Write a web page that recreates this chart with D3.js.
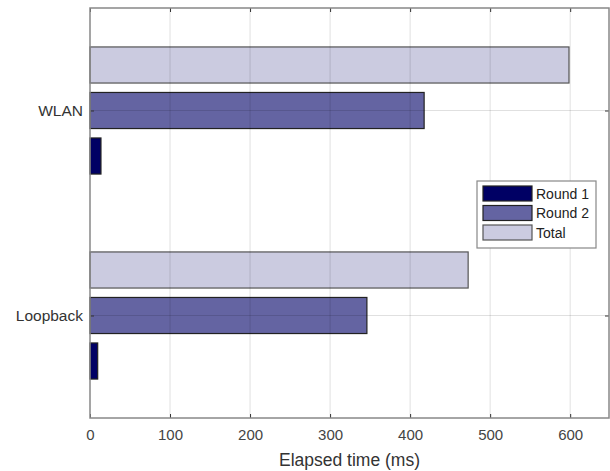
<html>
<head>
<meta charset="utf-8">
<script src="https://d3js.org/d3.v7.min.js"></script>
<style>
  body { margin: 0; background: #fff; }
  text { font-family: "Liberation Sans", Arial, sans-serif; }
</style>
</head>
<body>
<div id="my_dataviz"></div>
<script>
// categories (bottom to top) and series
const categories = ["Loopback", "WLAN"];
const seriesNames = ["Round 1", "Round 2", "Total"];
const round1 = [9.6, 13.7];
const round2 = [346, 417.5];
const total = [472.5, 598.5];
const xTicks = [0, 100, 200, 300, 400, 500, 600];

const colors = ["#000064", "#6464a2", "#cbcbe0"];

const W = 610, H = 471;
const margin = {top: 8, right: 1, bottom: 53, left: 90};

const svg = d3.select("#my_dataviz")
  .append("svg")
    .attr("width", W)
    .attr("height", H);

const x = d3.scaleLinear()
  .domain([0, 648.5])
  .range([margin.left, W - margin.right]);

// numeric y like matlab barh: category i at y=i+1, limits [0.5, 2.5]
const y = d3.scaleLinear()
  .domain([0.5, categories.length + 0.5])
  .range([H - margin.bottom, margin.top]);

const groupOffset = 0.222, barH = 0.176;
const seriesVals = [round1, round2, total];

const data = [];
seriesVals.forEach((vals, s) => {
  vals.forEach((v, i) => {
    data.push({s: s, cat: i + 1, value: v});
  });
});

// bars
svg.append("g")
  .selectAll("rect")
  .data(data)
  .join("rect")
    .attr("x", x(0))
    .attr("y", d => y(d.cat + (d.s - 1) * groupOffset + barH / 2))
    .attr("width", d => x(d.value) - x(0))
    .attr("height", d => y(0) - y(barH))
    .style("fill", d => colors[d.s])
    .style("stroke", d => d.s == 2 ? "#555" : "#222")
    .style("stroke-width", 1.2);

// grid on top, semi transparent
const grid = svg.append("g");
grid.selectAll(".gx")
  .data(xTicks.filter(t => t > 0))
  .join("line")
    .attr("x1", d => x(d)).attr("x2", d => x(d))
    .attr("y1", margin.top).attr("y2", H - margin.bottom)
    .style("stroke", "rgba(0,0,0,0.12)");
grid.selectAll(".gy")
  .data(categories.map((c, i) => i + 1))
  .join("line")
    .attr("x1", margin.left).attr("x2", W - margin.right)
    .attr("y1", d => y(d)).attr("y2", d => y(d))
    .style("stroke", "rgba(0,0,0,0.12)");

// axes
svg.append("g")
  .attr("transform", `translate(0, ${H - margin.bottom})`)
  .style("font-size", "15px")
  .call(d3.axisBottom(x).tickValues(xTicks).tickSizeInner(-4).tickSizeOuter(0).tickPadding(11))
  .call(g => g.select(".domain").remove())
  .call(g => g.selectAll("line").style("stroke", "#333"))
  .call(g => g.selectAll("text").style("fill", "#444"));

svg.append("g")
  .attr("transform", `translate(0, ${margin.top})`)
  .call(d3.axisTop(x).tickValues(xTicks).tickSizeInner(-4).tickSizeOuter(0).tickFormat(""))
  .call(g => g.select(".domain").remove())
  .call(g => g.selectAll("line").style("stroke", "#333"));

svg.append("g")
  .attr("transform", `translate(${margin.left}, 0)`)
  .style("font-size", "15.5px")
  .call(d3.axisLeft(y).tickValues([1, 2]).tickFormat(d => categories[d - 1]).tickSizeInner(-4).tickSizeOuter(0).tickPadding(7))
  .call(g => g.select(".domain").remove())
  .call(g => g.selectAll("line").style("stroke", "#333"))
  .call(g => g.selectAll("text").style("fill", "#333"));

svg.append("g")
  .attr("transform", `translate(${W - margin.right}, 0)`)
  .call(d3.axisRight(y).tickValues([1, 2]).tickSizeInner(-4).tickSizeOuter(0).tickFormat(""))
  .call(g => g.select(".domain").remove())
  .call(g => g.selectAll("line").style("stroke", "#333"));

// box
svg.append("rect")
  .attr("x", margin.left)
  .attr("y", margin.top)
  .attr("width", W - margin.right - margin.left)
  .attr("height", H - margin.bottom - margin.top)
  .style("fill", "none")
  .style("stroke", "#888")
  .style("stroke-width", 1.5);

// x label
svg.append("text")
  .attr("x", (margin.left + W - margin.right) / 2)
  .attr("y", 466)
  .attr("text-anchor", "middle")
  .style("font-size", "17.5px")
  .style("fill", "#333")
  .text("Elapsed time (ms)");

// legend
const lg = svg.append("g").attr("transform", "translate(477, 181)");
lg.append("rect")
  .attr("width", 119).attr("height", 67)
  .style("fill", "#fff")
  .style("stroke", "#888")
  .style("stroke-width", 1.2);
seriesNames.forEach((name, i) => {
  lg.append("rect")
    .attr("x", 6).attr("y", 5 + i * 19.5)
    .attr("width", 49).attr("height", 15)
    .style("fill", colors[i])
    .style("stroke", i == 2 ? "#555" : "#222")
    .style("stroke-width", 1.2);
  lg.append("text")
    .attr("x", 59).attr("y", 17.5 + i * 19.5)
    .style("font-size", "14px")
    .style("fill", "#222")
    .text(name);
});
</script>
</body>
</html>
